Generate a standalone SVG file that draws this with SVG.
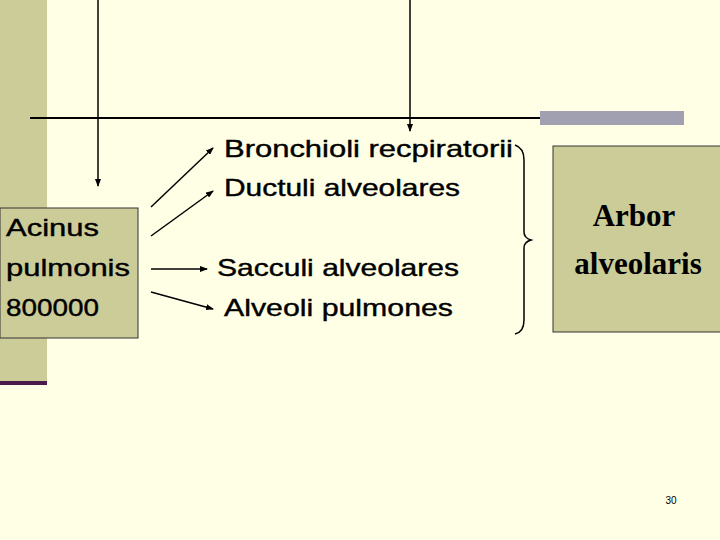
<svg xmlns="http://www.w3.org/2000/svg" width="720" height="540" viewBox="0 0 720 540">
<defs><marker id="a" markerWidth="8" markerHeight="6" refX="7" refY="3" orient="auto" markerUnits="userSpaceOnUse"><path d="M0,0 L8,3 L0,6 z" fill="#000"/></marker></defs>
<style>
.t{font-family:"Liberation Sans",Arial,sans-serif;font-size:24px;fill:#000;stroke:#000;stroke-width:0.4}
.b{font-family:"Liberation Serif","Times New Roman",serif;font-size:31px;font-weight:bold;fill:#000}
.c{stroke:#000;stroke-width:1.5;fill:none}
</style>
<rect width="720" height="540" fill="#FFFFE6"/>
<rect x="0" y="0" width="47" height="382" fill="#CCCC99"/>
<rect x="0" y="381" width="47" height="4" fill="#4B1A4B"/>
<rect x="540" y="111" width="144" height="14" fill="#A0A0B0"/>
<line x1="30" y1="118" x2="540" y2="118" stroke="#000" stroke-width="2"/>
<g id="acinus"><rect x="0" y="208" width="138" height="130" fill="#CCCC99" stroke="#333" stroke-width="1"/>
<text class="t" x="6" y="236" textLength="93" lengthAdjust="spacingAndGlyphs">Acinus</text><text class="t" x="6" y="276" textLength="124" lengthAdjust="spacingAndGlyphs">pulmonis</text><text class="t" x="6" y="316" textLength="93" lengthAdjust="spacingAndGlyphs">800000</text></g>
<g id="bronch"><text class="t" x="224" y="157" textLength="289" lengthAdjust="spacingAndGlyphs">Bronchioli recpiratorii</text></g>
<g id="duct"><text class="t" x="224" y="196" textLength="236" lengthAdjust="spacingAndGlyphs">Ductuli alveolares</text></g>
<g id="sacc"><text class="t" x="217" y="276" textLength="242" lengthAdjust="spacingAndGlyphs">Sacculi alveolares</text></g>
<g id="alv"><text class="t" x="224" y="316" textLength="229" lengthAdjust="spacingAndGlyphs">Alveoli pulmones</text></g>
<g id="arbor"><rect x="553" y="146" width="170" height="186" fill="#CCCC99" stroke="#333" stroke-width="1"/>
<text class="b" x="634" y="226" text-anchor="middle">Arbor</text><text class="b" x="638" y="274" text-anchor="middle">alveolaris</text></g>
<g id="connectors">
<line class="c" x1="98" y1="0" x2="98" y2="186" marker-end="url(#a)"/>
<line class="c" x1="410" y1="0" x2="410" y2="131" marker-end="url(#a)"/>
<line class="c" x1="151" y1="207" x2="213" y2="148" marker-end="url(#a)"/>
<line class="c" x1="151" y1="236" x2="213" y2="191" marker-end="url(#a)"/>
<line class="c" x1="151" y1="269" x2="207" y2="269" marker-end="url(#a)"/>
<line class="c" x1="151" y1="292" x2="213" y2="309" marker-end="url(#a)"/>
<path class="c" stroke-width="1" d="M515,145 Q524,148 524,160 L524,232 Q524,238 531,240 Q524,242 524,248 L524,320 Q524,332 515,334"/>
</g>
<text x="671" y="504" font-family="Liberation Sans,Arial,sans-serif" font-size="10" text-anchor="middle">30</text>
</svg>
